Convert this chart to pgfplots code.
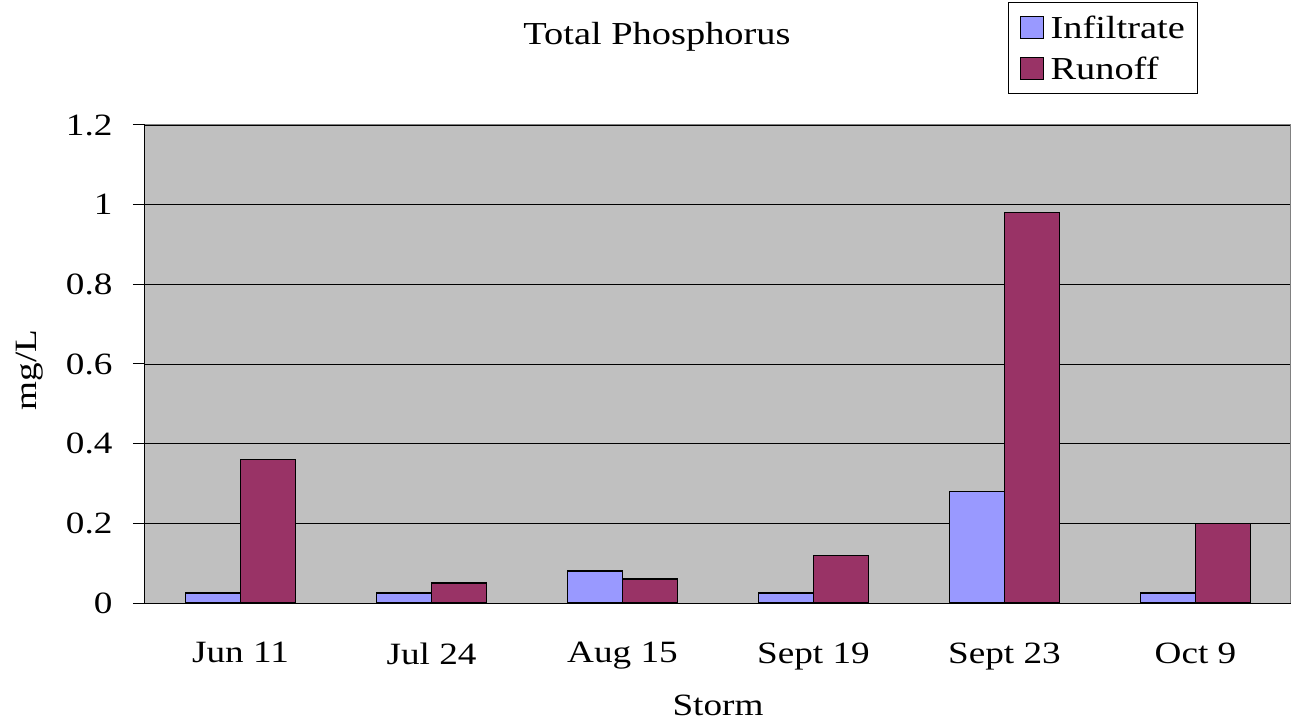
\documentclass[border=0pt]{standalone}
\usepackage{fontspec}
\setmainfont[FakeStretch=1.2]{Liberation Serif}
\usepackage{pgfplots}
\pgfplotsset{compat=1.18}
\definecolor{infil}{HTML}{9999FF}
\definecolor{runoff}{HTML}{993366}
\definecolor{plotbg}{HTML}{C0C0C0}
\begin{document}
\begin{tikzpicture}
\useasboundingbox (-145pt,-119pt) rectangle (1147pt,603pt);
\begin{axis}[
  at={(0pt,0pt)}, anchor=south west,
  scale only axis, width=1146pt, height=478pt,
  xmin=-0.5, xmax=5.5, ymin=0, ymax=1.2,
  ybar=0pt, bar width=55pt,
  axis lines*=left,
  axis line style={black, line width=1pt},
  axis background/.style={fill=plotbg},
  xtick={0,1,2,3,4,5},
  xticklabels={Jun 11,Jul 24,Aug 15,Sept 19,Sept 23,Oct 9},
  xtick style={draw=none},
  minor xtick={-0.5,0.5,1.5,2.5,3.5,4.5,5.5},
  minor x tick style={black, line width=1pt},
  minor tick length=10pt,
  ytick={0,0.2,0.4,0.6,0.8,1,1.2},
  yticklabels={0,0.2,0.4,0.6,0.8,1,1.2},
  major tick length=12pt,
  tick align=outside,
  ytick style={black, line width=1pt},
  ymajorgrids, grid style={black, line width=0.8pt},
  /pgf/number format/assume math mode=true,
  tick label style={font=\fontsize{31}{36}\selectfont},
  xticklabel style={yshift=-24pt},
  yticklabel style={xshift=-17pt},
  xlabel={Storm}, ylabel={mg/L},
  label style={font=\fontsize{31}{36}\selectfont},
  xlabel style={at={(axis description cs:0.5,0)}, anchor=center, yshift=-102pt},
  ylabel style={at={(axis description cs:-0.1003,0.487)}, anchor=center},
  legend style={at={(863pt,601pt)}, anchor=north west, draw=black, line width=1pt,
    font=\fontsize{32}{38}\selectfont, inner xsep=11pt, inner ysep=11pt,
    row sep=13pt, column sep=5pt, fill=white},
  legend cell align=left,
  legend image code/.code={\draw[#1, line width=1pt] (0pt,-11pt) rectangle (23pt,11pt);},
  clip=false,
]
\addplot[fill=infil, draw=black, line width=1.3pt] coordinates {(0,0.025) (1,0.025) (2,0.08) (3,0.025) (4,0.28) (5,0.025)};
\addplot[fill=runoff, draw=black, line width=1.3pt] coordinates {(0,0.36) (1,0.05) (2,0.06) (3,0.12) (4,0.98) (5,0.20)};
\legend{Infiltrate,Runoff}
\draw[gray, line width=1pt] (rel axis cs:0,1) -- (rel axis cs:1,1) -- (rel axis cs:1,0);
\end{axis}
\node[font=\fontsize{32}{38}\selectfont, anchor=center] at (512pt,566pt) {Total Phosphorus};
\end{tikzpicture}
\end{document}
